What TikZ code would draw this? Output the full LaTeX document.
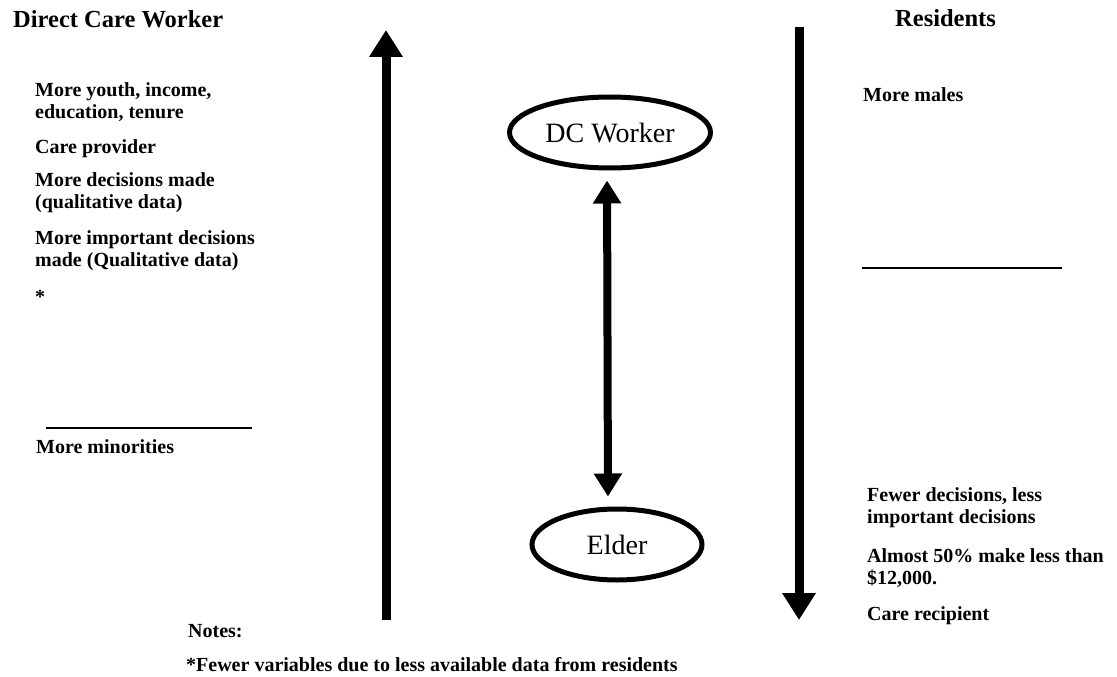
\documentclass[tikz,border=0pt]{standalone}
\usepackage{fontspec}
\setmainfont{Liberation Serif}
\usetikzlibrary{arrows.meta,shapes.geometric}
\begin{document}
\begin{tikzpicture}[x=1pt,y=-1pt,
  txt/.style={anchor=base west,inner sep=0pt,font=\fontsize{20}{22}\selectfont\bfseries},
  head/.style={anchor=base west,inner sep=0pt,font=\fontsize{24.5}{26}\selectfont\bfseries},
  oval/.style={ellipse,draw,line width=5pt,inner sep=0pt,font=\fontsize{28}{30}\selectfont},
  bigarrow/.style={line width=9pt,-{Triangle[length=27pt,width=32pt]}},
  midarrow/.style={line width=8pt,{Triangle[length=23pt,width=27pt]}-{Triangle[length=23pt,width=27pt]},
    shorten <=10pt,shorten >=10pt},
  rulebar/.style={line width=2.8pt}]
\useasboundingbox[fill=white] (0,0) rectangle (1117,677);

% column headings
\node[head] (hdw) at (13,28) {Direct Care Worker};
\node[head] (hres) at (895,27) {Residents};

% worker characteristics
\node[txt] (w1a) at (35,96)  {More youth, income,};
\node[txt] (w1b) at (35,118) {education, tenure};
\node[txt] (w2)  at (35,153) {Care provider};
\node[txt] (w3a) at (35,186) {More decisions made};
\node[txt] (w3b) at (35,208) {(qualitative data)};
\node[txt] (w4a) at (35,244) {More important decisions};
\node[txt] (w4b) at (35,266) {made (Qualitative data)};
\node[txt] (w5)  at (35,303) {*};
\coordinate (wl1) at (46,428);
\coordinate (wl2) at (252,428);
\draw[rulebar] (wl1) -- (wl2);
\node[txt] (w6) at (36,453) {More minorities};

% resident characteristics
\node[txt] (r1) at (863,102) {More males};
\coordinate (rl1) at (862,268);
\coordinate (rl2) at (1062,268);
\draw[rulebar] (rl1) -- (rl2);
\node[txt] (r2a) at (867,501) {Fewer decisions, less};
\node[txt] (r2b) at (867,523) {important decisions};
\node[txt] (r3a) at (867,562) {Almost 50\% make less than};
\node[txt] (r3b) at (867,584) {\$12,000.};
\node[txt] (r4)  at (867,620) {Care recipient};

% the two long direction arrows
\coordinate (la1) at (386,620);
\coordinate (la2) at (386,30);
\draw[bigarrow] (la1) -- (la2);
\coordinate (ra1) at (799,27);
\coordinate (ra2) at (799,620);
\draw[bigarrow] (ra1) -- (ra2);

% the dyad
\node[oval,minimum width=201pt,minimum height=71pt] (dc) at (610,132.5) {DC Worker};
\node[oval,minimum width=170pt,minimum height=71pt] (el) at (617,544.5) {Elder};
\draw[midarrow] ([xshift=-3pt]dc.south) -- ([xshift=-9pt]el.north);

% notes
\node[txt] (n1) at (188,637) {Notes:};
\node[txt] (n2) at (186,671) {*Fewer variables due to less available data from residents};
\end{tikzpicture}
\end{document}
